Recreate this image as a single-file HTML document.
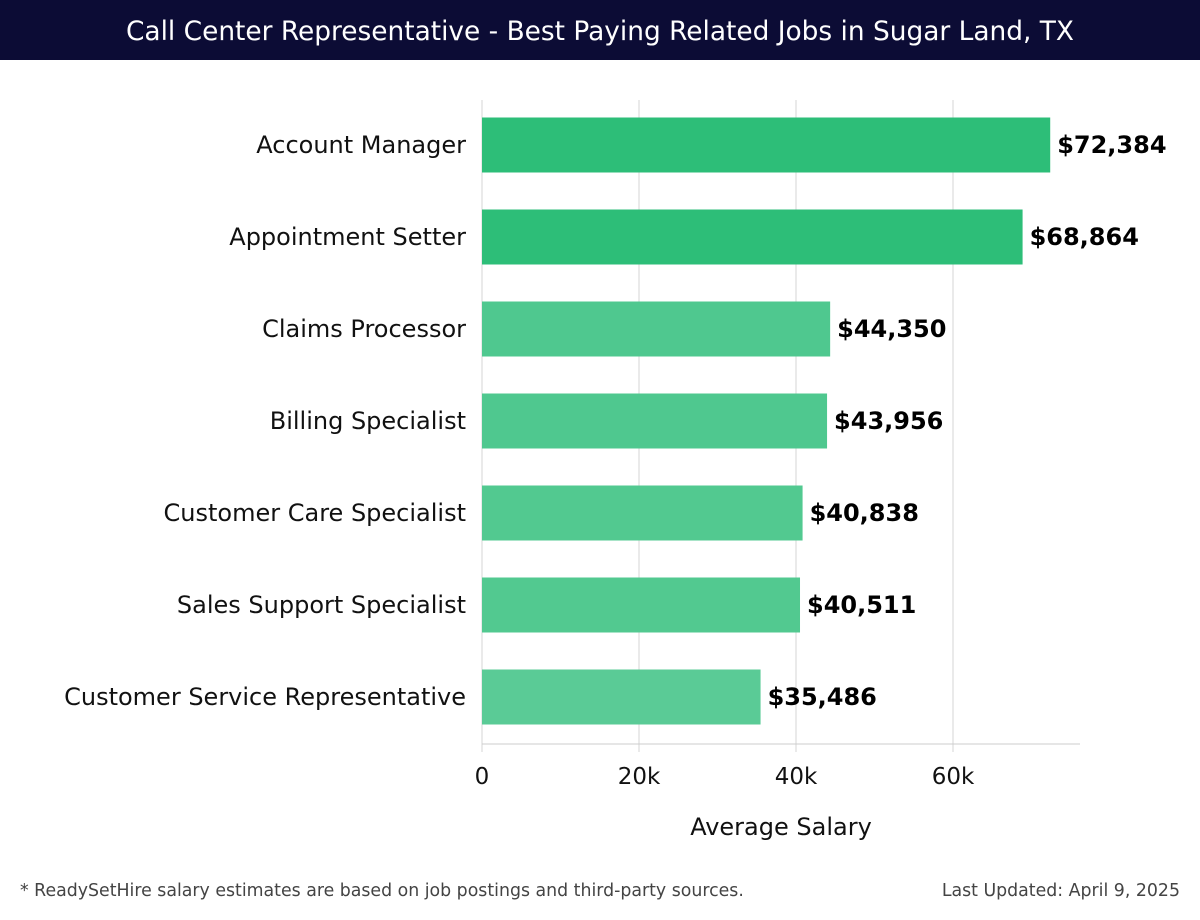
<!DOCTYPE html>
<html><head><meta charset="utf-8"><style>
body{margin:0;width:1200px;height:920px;background:#fff;font-family:"DejaVu Sans","Liberation Sans",sans-serif;overflow:hidden;position:relative}
#hdr{position:absolute;left:0;top:0;width:1200px;height:60px;background:#0c0c35;color:#fff;font-size:26.4px;text-align:center;line-height:64px;font-family:"DejaVu Sans",sans-serif}
.ft{position:absolute;top:881px;font-size:17.35px;color:#444;font-family:"DejaVu Sans",sans-serif}
</style></head><body>
<div id="hdr">Call Center Representative - Best Paying Related Jobs in Sugar Land, TX</div>
<svg id="ch" width="1200" height="920" style="position:absolute;left:0;top:0"></svg>
<div class="ft" style="left:20px">* ReadySetHire salary estimates are based on job postings and third-party sources.</div>
<div class="ft" style="right:20px">Last Updated: April 9, 2025</div>
<script>
const categories=["Account Manager","Appointment Setter","Claims Processor","Billing Specialist","Customer Care Specialist","Sales Support Specialist","Customer Service Representative"];
const values=[72384,68864,44350,43956,40838,40511,35486];
const tickValues=[0,20000,40000,60000];
const tickLabels=["0","20k","40k","60k"];
const NS="http://www.w3.org/2000/svg",svg=document.getElementById('ch');
const x=v=>482+v*157/20000;
const yc=i=>145+i*92;
function el(t,a,txt){const e=document.createElementNS(NS,t);for(const k in a)e.setAttribute(k,a[k]);if(txt!=null)e.textContent=txt;svg.appendChild(e);return e;}
tickValues.forEach((t,i)=>{
 const g=el('line',{x1:x(t),x2:x(t),y1:100,y2:752,stroke:'#e3e3e3','stroke-width':1.5});
 
 
 const l=el('text',{x:x(t),y:784,'font-size':23,'text-anchor':'middle',fill:'#111'},tickLabels[i]);
 
 
});
const ax=el('line',{x1:482,x2:1080,y1:744,y2:744,stroke:'#ccc','stroke-width':1});


const cols=['#2dbe78','#2dbe78','#4fc88f','#4fc88f','#52c990','#52c990','#5acb96'];
values.forEach((v,i)=>{
 const r=el('rect',{x:482,y:yc(i)-27.5,width:x(v)-482,height:55,fill:cols[i]});
 
 
 const t=el('text',{x:x(v)+7,y:yc(i)+8,'font-size':24,'font-weight':'bold',fill:'#000'},'$'+v.toLocaleString('en-US'));
 
 
 const c=el('text',{x:466,y:yc(i)+8,'font-size':24,'text-anchor':'end',fill:'#111'},categories[i]);
 
 
});
const xt=el('text',{x:781,y:835,'font-size':24,'text-anchor':'middle',fill:'#111'},'Average Salary');


</script>
</body></html>
